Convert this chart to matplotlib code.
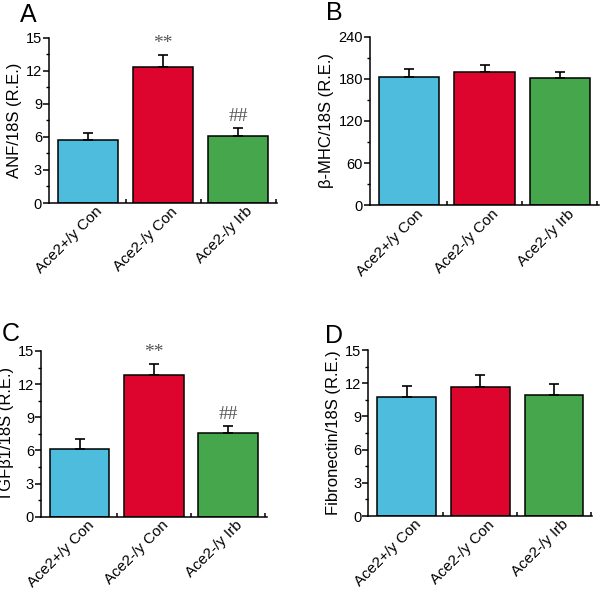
import numpy as np
import matplotlib
matplotlib.use("Agg")
import matplotlib.pyplot as plt
from matplotlib.ticker import MultipleLocator, FixedLocator
import matplotlib.transforms as mtransforms

plt.rcParams['font.family'] = ['Liberation Sans', 'DejaVu Sans']

groups = ["Ace2+/y Con", "Ace2-/y Con", "Ace2-/y Irb"]
colors = ["#4ebcdd", "#dd052e", "#46a64c"]

anf_mean = [5.75, 12.37, 6.08]
anf_err = [0.6, 1.03, 0.72]
bmhc_mean = [182.6, 190.2, 180.7]
bmhc_err = [10.9, 9.0, 9.0]
tgf_mean = [6.16, 12.86, 7.58]
tgf_err = [0.84, 0.96, 0.62]
fib_mean = [10.75, 11.69, 10.9]
fib_err = [1.03, 1.08, 1.06]

anf_marks = ["", "**", "##"]
tgf_marks = ["", "**", "##"]
no_marks = ["", "", ""]

W, H = 600, 592
fig = plt.figure(figsize=(6.0, 5.92), dpi=100)


def px_axes(l, r, t, b):
    return fig.add_axes([l / W, 1 - b / H, (r - l) / W, (b - t) / H])


def draw_panel(ax, means, errs, marks, ymax, major, ylabel, letter, letter_xy):
    x = np.arange(len(groups))
    ax.bar(x, means, width=0.8, color=colors, edgecolor="black", linewidth=1.1, zorder=2)
    ax.errorbar(x, means, yerr=[np.zeros(len(errs)), errs], fmt="none", ecolor="black",
                elinewidth=1.2, capsize=3.5, capthick=1.2, zorder=3)
    for xi, m, e, s in zip(x, means, errs, marks):
        if s:
            ax.annotate(s, (xi, m + e), xytext=(0, 2), textcoords="offset points",
                        ha="center", va="bottom", fontsize=14, color="#555555",
                        family="Liberation Serif")
    ax.set_xlim(-0.52, 2.52)
    ax.set_ylim(0, ymax)
    ax.yaxis.set_major_locator(MultipleLocator(major))
    ax.yaxis.set_minor_locator(MultipleLocator(major / 2))
    ax.tick_params(axis="y", which="major", direction="out", length=4, width=1.1, labelsize=10.5, pad=1)
    ax.tick_params(axis="y", which="minor", direction="out", length=2.5, width=1.0)
    ax.set_xticks(x)
    ax.xaxis.set_minor_locator(FixedLocator([0.5, 1.5, 2.5]))
    ax.tick_params(axis="x", which="major", length=0, labelsize=11, pad=1)
    ax.tick_params(axis="x", which="minor", direction="in", length=3, width=1.1)
    offset = mtransforms.ScaledTranslation(7 / 100, 0, fig.dpi_scale_trans)
    ax.set_xticklabels(groups, rotation=45, ha="right", rotation_mode="anchor")
    for lab in ax.get_xticklabels():
        lab.set_transform(lab.get_transform() + offset)
    for side in ["top", "right"]:
        ax.spines[side].set_visible(False)
    for side in ["left", "bottom"]:
        ax.spines[side].set_linewidth(1.1)
    ax.set_ylabel(ylabel, fontsize=12, labelpad=3)
    fig.text(letter_xy[0] / W, 1 - letter_xy[1] / H, letter, fontsize=18,
             ha="center", va="center")


axA = px_axes(49, 277, 37.5, 203)
draw_panel(axA, anf_mean, anf_err, anf_marks, 15, 3, "ANF/18S (R.E.)", "A", (28, 15))

axB = px_axes(370, 599, 36.7, 205.3)
draw_panel(axB, bmhc_mean, bmhc_err, no_marks, 240, 60, "β-MHC/18S (R.E.)", "B", (334, 13))

axC = px_axes(41, 266.7, 351, 516.7)
draw_panel(axC, tgf_mean, tgf_err, tgf_marks, 15, 3, "TGFβ1/18S (R.E.)", "C", (11, 334))

axD = px_axes(368.3, 592.3, 350, 516)
draw_panel(axD, fib_mean, fib_err, no_marks, 15, 3, "Fibronectin/18S (R.E.)", "D", (334, 336))

fig.savefig("out.png", dpi=100)
